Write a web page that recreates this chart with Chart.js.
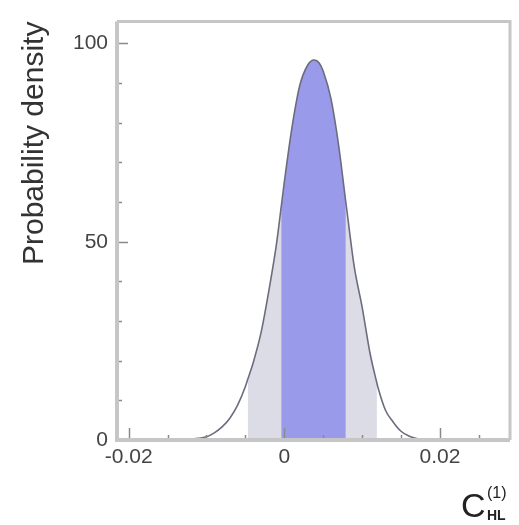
<!DOCTYPE html>
<html>
<head>
<meta charset="utf-8">
<script src="https://cdn.jsdelivr.net/npm/chart.js@4.4.0/dist/chart.umd.min.js"></script>
<style>
    body { margin: 0; background: #fff; }
    #wrap { width: 519px; height: 525px; position: relative; }
</style>
</head>
<body>
<div id="wrap"><canvas id="chart"></canvas></div>
<script>
// values (x = C_HL^(1), y = probability density)
const xValues = [-0.0215, -0.016, -0.013, -0.011, -0.010, -0.009, -0.008, -0.007, -0.006, -0.005,
    -0.0047, -0.004, -0.003, -0.002, -0.001, -0.0004, 0, 0.001, 0.002, 0.003,
    0.0038, 0.0045, 0.005, 0.006, 0.007, 0.0079, 0.008, 0.009, 0.010, 0.011,
    0.0119, 0.012, 0.013, 0.014, 0.015, 0.016, 0.017, 0.018, 0.020, 0.029];
const densityValues = [0, 0, 0.1, 0.4, 0.8, 1.8, 3.3, 5.5, 8.8, 13.5,
    15.3, 19.5, 27, 37.5, 49.5, 58.8, 65, 79, 89.5, 94.5,
    95.8, 95, 93, 86, 74, 60, 58.5, 43.5, 33.5, 22,
    14.3, 13.5, 7.5, 4.5, 2.2, 1, 0.4, 0.1, 0, 0];

// credible intervals
const band68 = [-0.0004, 0.0079];
const band95 = [-0.0047, 0.0119];

const xTickLabels = [-0.02, 0, 0.02];
const yTickLabels = [0, 50, 100];

const points = xValues.map((x, i) => ({ x: x, y: densityValues[i] }));
const inBand = (band) => points.filter((p) => p.x >= band[0] - 1e-9 && p.x <= band[1] + 1e-9);

const near = (v, list) => list.some((t) => Math.abs(v - t) < 1e-7);

const frameAndTicks = {
    id: 'frameAndTicks',
    afterDatasetsDraw(chart) {
        const { ctx, chartArea: a, scales } = chart;
        ctx.save();

        // inward tick marks
        ctx.strokeStyle = '#8a8a8a';
        ctx.lineWidth = 1.5;
        scales.x.ticks.forEach((t) => {
            const px = Math.round(scales.x.getPixelForValue(t.value)) + 0.5;
            const len = near(t.value, xTickLabels) ? 12 : 5;
            ctx.beginPath();
            ctx.moveTo(px, a.bottom);
            ctx.lineTo(px, a.bottom - len);
            ctx.stroke();
        });
        scales.y.ticks.forEach((t) => {
            const py = Math.round(scales.y.getPixelForValue(t.value)) + 0.5;
            const len = near(t.value, yTickLabels) ? 11 : 5;
            ctx.beginPath();
            ctx.moveTo(a.left, py);
            ctx.lineTo(a.left + len, py);
            ctx.stroke();
        });

        // frame
        ctx.strokeStyle = '#c6c6c6';
        ctx.lineWidth = 3;
        ctx.beginPath();
        ctx.moveTo(a.left, a.top);
        ctx.lineTo(a.right, a.top);
        ctx.lineTo(a.right, a.bottom);
        ctx.stroke();
        ctx.lineWidth = 4;
        ctx.beginPath();
        ctx.moveTo(a.left, a.top);
        ctx.lineTo(a.left, a.bottom);
        ctx.lineTo(a.right, a.bottom);
        ctx.stroke();

        // x axis title C_HL^(1)
        ctx.fillStyle = '#222';
        ctx.textBaseline = 'alphabetic';
        ctx.textAlign = 'left';
        ctx.font = '34px "Liberation Sans", Arial, sans-serif';
        ctx.fillText('C', 461, 517);
        ctx.font = '16px "Liberation Sans", Arial, sans-serif';
        ctx.fillText('(1)', 487, 498);
        ctx.font = 'bold 14px "Liberation Sans", Arial, sans-serif';
        ctx.fillText('HL', 487, 520);

        ctx.restore();
    },
};

const tickFont = { family: '"Liberation Sans", Arial, sans-serif', size: 21 };

new Chart(document.getElementById('chart'), {
    type: 'line',
    data: {
        datasets: [
            {
                label: 'density',
                data: points,
                borderColor: '#6c6c7e',
                borderWidth: 1.6,
                pointRadius: 0,
                fill: false,
                cubicInterpolationMode: 'monotone',
                order: 0,
            },
            {
                label: '68%',
                data: inBand(band68),
                borderWidth: 0,
                backgroundColor: '#9a9aea',
                pointRadius: 0,
                fill: 'origin',
                cubicInterpolationMode: 'monotone',
                order: 1,
            },
            {
                label: '95%',
                data: inBand(band95),
                borderWidth: 0,
                backgroundColor: '#dcdce6',
                pointRadius: 0,
                fill: 'origin',
                cubicInterpolationMode: 'monotone',
                order: 2,
            },
        ],
    },
    options: {
        responsive: true,
        maintainAspectRatio: false,
        animation: false,
        layout: { padding: { top: 18, right: 9, left: 0, bottom: 0 } },
        plugins: {
            legend: { display: false },
            tooltip: { enabled: false },
        },
        scales: {
            x: {
                type: 'linear',
                min: -0.0215,
                max: 0.029,
                grid: { display: false, drawTicks: false },
                border: { display: false },
                ticks: {
                    stepSize: 0.005,
                    includeBounds: false,
                    autoSkip: false,
                    maxRotation: 0,
                    padding: 5,
                    color: '#444',
                    font: tickFont,
                    callback: (v) => (near(v, xTickLabels) ? String(Math.round(v * 100) / 100) : ''),
                },
                afterFit: (scale) => { scale.height = 85; },
            },
            y: {
                type: 'linear',
                min: 0,
                max: 105.5,
                grid: { display: false, drawTicks: false },
                border: { display: false },
                ticks: {
                    stepSize: 10,
                    includeBounds: false,
                    autoSkip: false,
                    padding: 9,
                    color: '#444',
                    font: tickFont,
                    callback: (v) => (near(v, yTickLabels) ? String(v) : ''),
                },
                title: {
                    display: true,
                    text: 'Probability density',
                    align: 'end',
                    color: '#333',
                    font: { family: '"Liberation Sans", Arial, sans-serif', size: 30 },
                    padding: { top: 17, bottom: 0 },
                },
                afterFit: (scale) => { scale.width = 117; },
            },
        },
    },
    plugins: [frameAndTicks],
});
</script>
</body>
</html>
